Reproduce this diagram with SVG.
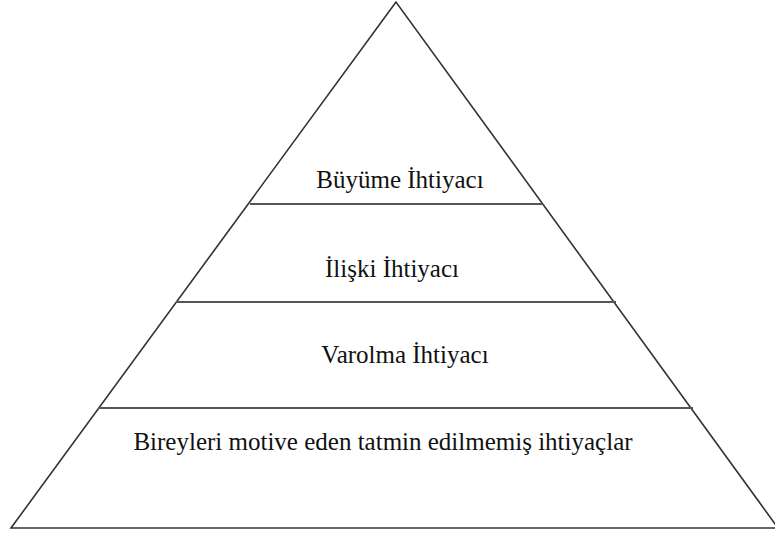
<svg xmlns="http://www.w3.org/2000/svg" width="775" height="533" viewBox="0 0 775 533">
  <style>
    .edge { fill: none; stroke: #333; stroke-width: 1.6; stroke-linejoin: miter; }
    .tier { stroke: #555; stroke-width: 2; }
    .label { font-family: "Liberation Serif", "Times New Roman", serif; font-size: 25px; fill: #111; text-anchor: middle; }
  </style>
  <rect width="775" height="533" fill="#fff"/>
  <!-- pyramid outline and tier dividers -->
  <g id="connectors">
    <polygon class="edge" points="396,2 11,528 778,528"/>
    <line class="tier" x1="250" y1="204" x2="543" y2="204"/>
    <line class="tier" x1="176" y1="302" x2="616" y2="302"/>
    <line class="tier" x1="98" y1="408" x2="693" y2="408"/>
  </g>
  <g id="growth">
    <text class="label" x="400" y="188">Büyüme İhtiyacı</text>
  </g>
  <g id="relatedness">
    <text class="label" x="392" y="277">İlişki İhtiyacı</text>
  </g>
  <g id="existence">
    <text class="label" x="405" y="363">Varolma İhtiyacı</text>
  </g>
  <g id="unmet-needs">
    <text class="label" x="383" y="450">Bireyleri motive eden tatmin edilmemiş ihtiyaçlar</text>
  </g>
</svg>
